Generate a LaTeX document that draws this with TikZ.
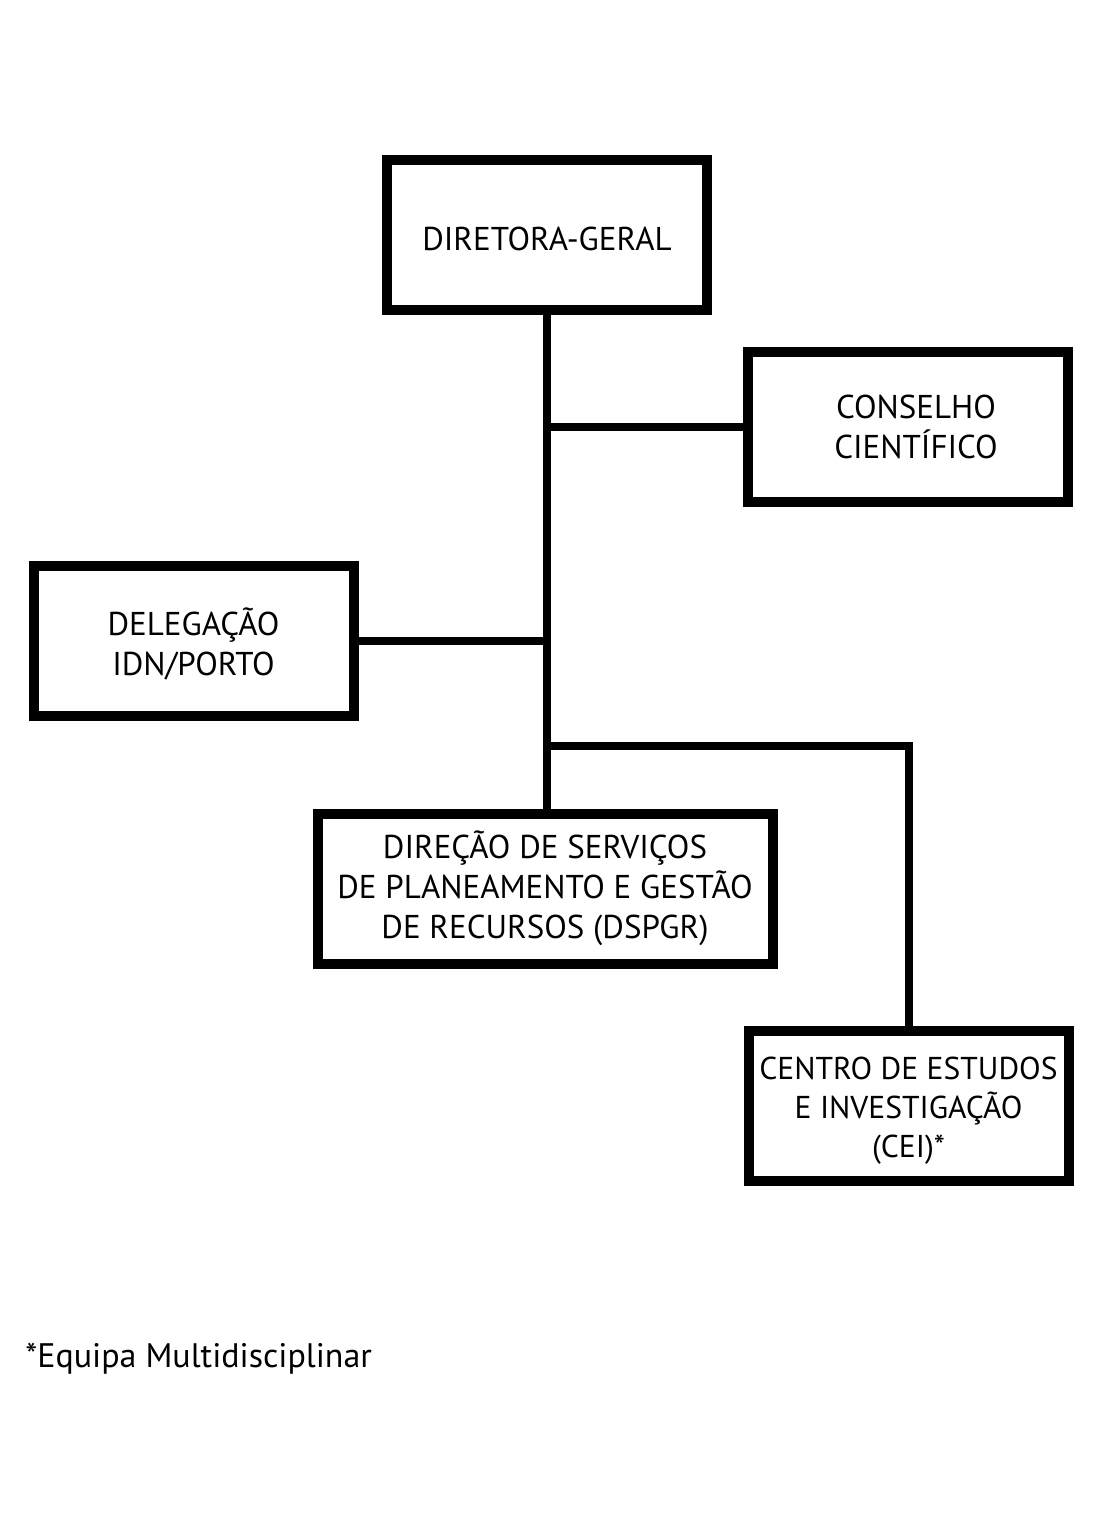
\documentclass[tikz,border=0pt]{standalone}
\usepackage{fontspec}
\setmainfont{PT Sans}
\usetikzlibrary{positioning}

\begin{document}
\begin{tikzpicture}
    [x=0.5pt,y=-0.5pt,font=\fontsize{16.5}{20}\selectfont,
     unit/.style={draw,line width=5pt,minimum width=160pt,minimum height=75pt,
       align=center,inner sep=0pt,text depth=0pt},
     link/.style={line width=4pt}]
    \useasboundingbox (0,0) rectangle (1100,1523);

    \node[unit,text height=15.55pt] (dg) at (547,235) {DIRETORA-GERAL};
    \node[unit,text height=31.55pt] (cc) at (908,426.5)
      {\hspace*{8pt}CONSELHO\\\hspace*{8pt}CIENTÍFICO};
    \node[unit,text height=34.55pt] (del) at (193.5,641) {DELEGAÇÃO\\IDN/PORTO};
    \node[unit,minimum width=227.5pt,text height=50pt] (ds) at (545,888.5)
      {DIREÇÃO DE SERVIÇOS\\DE PLANEAMENTO E GESTÃO\\DE RECURSOS (DSPGR)};
    \node[unit,text height=51pt,font=\fontsize{15.8}{19.5}\selectfont] (cei)
      at (908.5,1106) {CENTRO DE ESTUDOS\\E INVESTIGAÇÃO\\(CEI)*};
    \coordinate (split) at (547,746);

    \draw[link] (dg) -- (dg |- ds.north);
    \draw[link] (dg |- cc.west) -- (cc.west);
    \draw[link] (del.east) -- (dg |- del.east);
    \draw[link] (split) -| (cei.north);

    \node[anchor=base west,inner sep=0pt,font=\fontsize{17}{20}\selectfont] (note)
      at (25,1367) {*Equipa Multidisciplinar};
\end{tikzpicture}
\end{document}
